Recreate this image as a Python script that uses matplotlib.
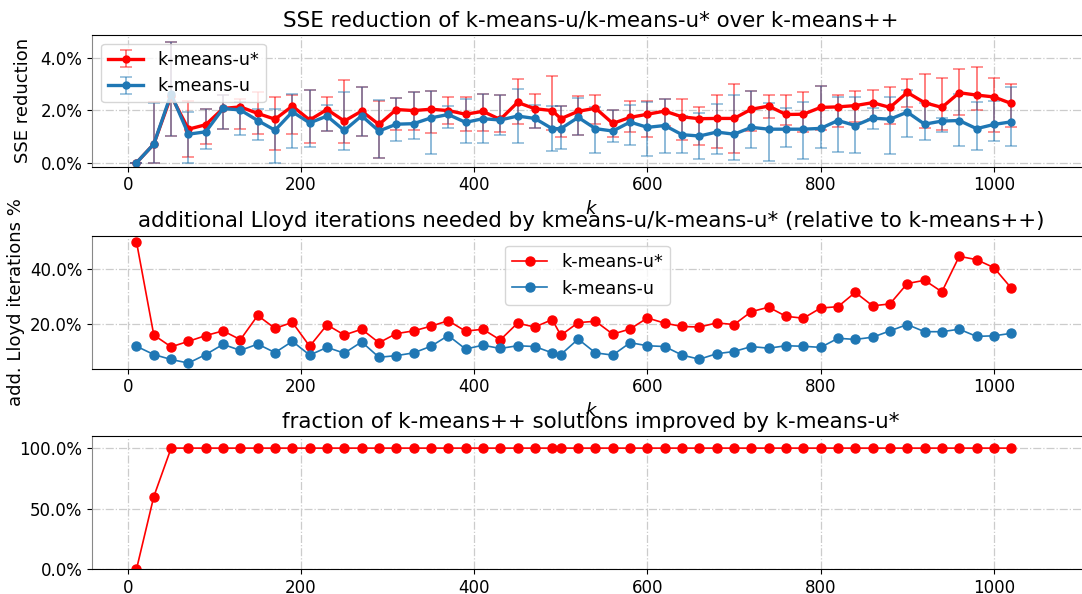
import matplotlib
matplotlib.use("Agg")
import matplotlib.pyplot as plt
from matplotlib.ticker import PercentFormatter

# number of centers
k_values = [10, 30, 50, 70, 90, 110, 130, 150, 170, 190, 210, 230, 250, 270,
            290, 310, 330, 350, 370, 390, 410, 430, 450, 470, 490, 500, 520,
            540, 560, 580, 600, 620, 640, 660, 680, 700, 720, 740, 760, 780,
            800, 820, 840, 860, 880, 900, 920, 940, 960, 980, 1000, 1020]

# SSE reduction (%) over k-means++, mean with min/max over runs
sse_ustar = [0.0, 0.71, 2.55, 1.28, 1.45, 2.07, 2.13, 1.88, 1.66, 2.16, 1.63,
             2.03, 1.59, 1.97, 1.46, 2.03, 1.99, 2.04, 1.99, 1.85, 1.96, 1.65,
             2.30, 2.06, 1.99, 1.68, 1.96, 2.08, 1.50, 1.73, 1.85, 1.97, 1.75,
             1.68, 1.69, 1.69, 2.04, 2.16, 1.84, 1.85, 2.11, 2.13, 2.18, 2.29,
             2.11, 2.68, 2.29, 2.11, 2.67, 2.58, 2.51, 2.26]
sse_ustar_lo = [0.0, 0.0, 1.02, 0.23, 0.70, 1.30, 1.30, 1.10, 0.48, 1.08, 0.74,
                1.21, 0.76, 1.03, 0.17, 1.24, 1.24, 1.12, 1.46, 1.20, 1.21, 1.17,
                1.46, 1.32, 1.25, 0.98, 1.05, 1.46, 0.98, 1.18, 1.00, 1.40, 0.86,
                0.67, 0.57, 0.38, 1.21, 1.71, 1.43, 1.18, 1.24, 1.37, 1.56, 1.65,
                1.46, 2.13, 1.31, 1.24, 1.82, 2.01, 1.18, 1.37]
sse_ustar_hi = [0.0, 2.30, 4.61, 2.35, 2.05, 2.60, 2.43, 2.70, 2.51, 2.58, 2.77,
                2.51, 3.15, 2.87, 2.36, 2.46, 2.68, 2.73, 2.49, 2.50, 2.63, 2.57,
                3.19, 2.64, 3.31, 2.18, 2.55, 2.59, 2.00, 2.34, 2.35, 2.44, 2.43,
                2.11, 2.60, 3.02, 2.73, 2.60, 2.57, 2.68, 2.92, 2.60, 2.74, 2.79,
                2.87, 3.19, 3.40, 3.25, 3.57, 3.64, 3.24, 3.02]

sse_u = [0.0, 0.71, 2.62, 1.09, 1.18, 2.07, 2.01, 1.61, 1.24, 1.94, 1.52,
         1.78, 1.23, 1.79, 1.21, 1.47, 1.49, 1.71, 1.84, 1.54, 1.68, 1.63,
         1.78, 1.69, 1.30, 1.30, 1.73, 1.30, 1.21, 1.55, 1.35, 1.42, 1.07,
         1.02, 1.17, 1.09, 1.35, 1.28, 1.28, 1.28, 1.31, 1.61, 1.42, 1.70,
         1.66, 1.93, 1.47, 1.59, 1.61, 1.30, 1.46, 1.56]
sse_u_lo = [0.0, 0.0, 1.02, 0.0, 0.51, 1.30, 1.04, 0.85, 0.0, 0.56, 0.61,
            1.20, 0.48, 1.03, 0.17, 0.84, 0.90, 0.32, 1.33, 0.77, 0.77, 1.04,
            0.74, 1.33, 0.44, 0.51, 1.05, 0.36, 0.79, 0.66, 0.27, 0.39, 0.37,
            0.15, 0.34, 0.10, 0.57, 0.08, 0.61, 0.14, 0.58, 0.42, 0.39, 1.28,
            0.32, 0.97, 0.86, 1.17, 0.63, 0.48, 0.83, 0.63]
sse_u_hi = [0.0, 2.27, 4.61, 1.94, 2.06, 2.60, 2.30, 2.06, 2.06, 2.62, 2.77,
            2.20, 2.70, 2.87, 2.39, 2.46, 2.68, 2.73, 2.18, 2.43, 2.63, 2.57,
            2.83, 2.20, 2.18, 2.18, 2.45, 2.13, 2.00, 2.22, 2.32, 2.44, 1.78,
            1.90, 2.23, 2.57, 2.73, 2.26, 2.10, 2.32, 2.92, 2.49, 2.50, 2.10,
            2.51, 2.79, 2.29, 1.69, 2.64, 2.31, 2.36, 2.87]

# additional Lloyd iterations (%) relative to k-means++
iter_ustar = [50.0, 16.1, 11.8, 13.8, 15.9, 17.6, 14.4, 23.2, 18.5, 20.7, 12.0,
              19.8, 16.1, 18.2, 13.3, 16.6, 17.6, 19.3, 21.3, 17.5, 18.2, 14.3,
              20.4, 19.0, 21.7, 16.0, 20.6, 21.1, 16.4, 18.3, 22.3, 20.4, 19.2,
              19.0, 20.5, 19.9, 24.6, 26.2, 22.9, 22.2, 25.9, 26.4, 31.6, 26.7,
              27.4, 34.8, 36.0, 31.8, 44.7, 43.5, 40.6, 33.2]
iter_u = [12.0, 9.0, 7.2, 5.9, 9.0, 12.7, 10.5, 12.8, 9.7, 13.8, 8.8,
          11.6, 9.5, 13.6, 8.0, 8.6, 9.6, 12.0, 15.9, 11.0, 12.4, 11.2,
          12.2, 11.9, 9.6, 9.0, 14.6, 9.6, 8.8, 13.3, 12.2, 11.9, 8.8,
          7.3, 9.3, 10.1, 11.9, 11.3, 12.2, 12.0, 11.6, 14.9, 14.5, 15.3,
          17.6, 19.9, 17.3, 17.3, 18.2, 15.6, 15.8, 16.7]

# share of k-means++ solutions improved by k-means-u* (%)
improved_ustar = [0.0, 60.0, 100.0, 100.0, 100.0, 100.0, 100.0, 100.0, 100.0,
                  100.0, 100.0, 100.0, 100.0, 100.0, 100.0, 100.0, 100.0, 100.0,
                  100.0, 100.0, 100.0, 100.0, 100.0, 100.0, 100.0, 100.0, 100.0,
                  100.0, 100.0, 100.0, 100.0, 100.0, 100.0, 100.0, 100.0, 100.0,
                  100.0, 100.0, 100.0, 100.0, 100.0, 100.0, 100.0, 100.0, 100.0,
                  100.0, 100.0, 100.0, 100.0, 100.0, 100.0, 100.0]

RED = "red"
BLUE = "#1f77b4"
W, H = 1082, 594


def add_ax(fig, left, top, right, bottom):
    # pixel box -> figure fraction
    return fig.add_axes([left / W, 1 - bottom / H, (right - left) / W, (bottom - top) / H])


def style_ax(ax):
    ax.grid(True, linestyle="-.", color="#cccccc", linewidth=0.9)
    ax.set_axisbelow(True)
    ax.tick_params(labelsize=12)
    ax.spines["left"].set_color("#888888")
    ax.set_xlim(-41, 1111)
    ax.set_xticks([0, 200, 400, 600, 800, 1000])


def err_band(mean, lo, hi):
    return [[m - l for m, l in zip(mean, lo)], [h - m for m, h in zip(mean, hi)]]


def draw_err(ax, y, lo, hi, color, label):
    line, caps, bars = ax.errorbar(k_values, y, yerr=err_band(y, lo, hi), fmt="-o",
                                   color=color, lw=2.4, ms=5, capsize=4,
                                   elinewidth=1.4, capthick=1.2, label=label)
    for c in caps:
        c.set_alpha(0.5)
    for b in bars:
        b.set_alpha(0.5)


fig = plt.figure(figsize=(W / 100, H / 100), dpi=100)

# SSE reduction with min/max bars
ax1 = add_ax(fig, 92.3, 35, 1090, 166.7)
style_ax(ax1)
draw_err(ax1, sse_ustar, sse_ustar_lo, sse_ustar_hi, RED, "k-means-u*")
draw_err(ax1, sse_u, sse_u_lo, sse_u_hi, BLUE, "k-means-u")
ax1.set_ylim(-0.15, 4.87)
ax1.set_yticks([0, 2, 4])
ax1.yaxis.set_major_formatter(PercentFormatter(xmax=100, decimals=1))
ax1.set_title("SSE reduction of k-means-u/k-means-u* over k-means++", fontsize=15.4)
ax1.set_xlabel("$k$", fontsize=13)
ax1.set_ylabel("SSE reduction", fontsize=13, labelpad=6)
ax1.legend(loc="upper left", fontsize=12.6)

# extra Lloyd iterations
ax2 = add_ax(fig, 92.3, 235.7, 1090, 368.7)
style_ax(ax2)
ax2.plot(k_values, iter_ustar, "-o", color=RED, lw=1.2, ms=6.5, label="k-means-u*")
ax2.plot(k_values, iter_u, "-o", color=BLUE, lw=1.2, ms=6.5, label="k-means-u")
ax2.set_ylim(3.85, 52.2)
ax2.set_yticks([20, 40])
ax2.yaxis.set_major_formatter(PercentFormatter(xmax=100, decimals=1))
ax2.set_title("additional Lloyd iterations needed by kmeans-u/k-means-u* (relative to k-means++)",
              fontsize=15.4)
ax2.set_xlabel("$k$", fontsize=13)
ax2.set_ylabel("add. Lloyd iterations %", fontsize=13)
ax2.legend(loc="upper left", bbox_to_anchor=(0.405, 0.99), fontsize=12.6)

# fraction of improved solutions
ax3 = add_ax(fig, 92.3, 436, 1090, 569.3)
style_ax(ax3)
ax3.plot(k_values, improved_ustar, "-o", color=RED, lw=1.2, ms=6.5)
ax3.set_ylim(0, 110)
ax3.set_yticks([0, 50, 100])
ax3.yaxis.set_major_formatter(PercentFormatter(xmax=100, decimals=1))
ax3.set_title("fraction of k-means++ solutions improved by k-means-u*", fontsize=15.4)

fig.savefig("out.png", dpi=100)
